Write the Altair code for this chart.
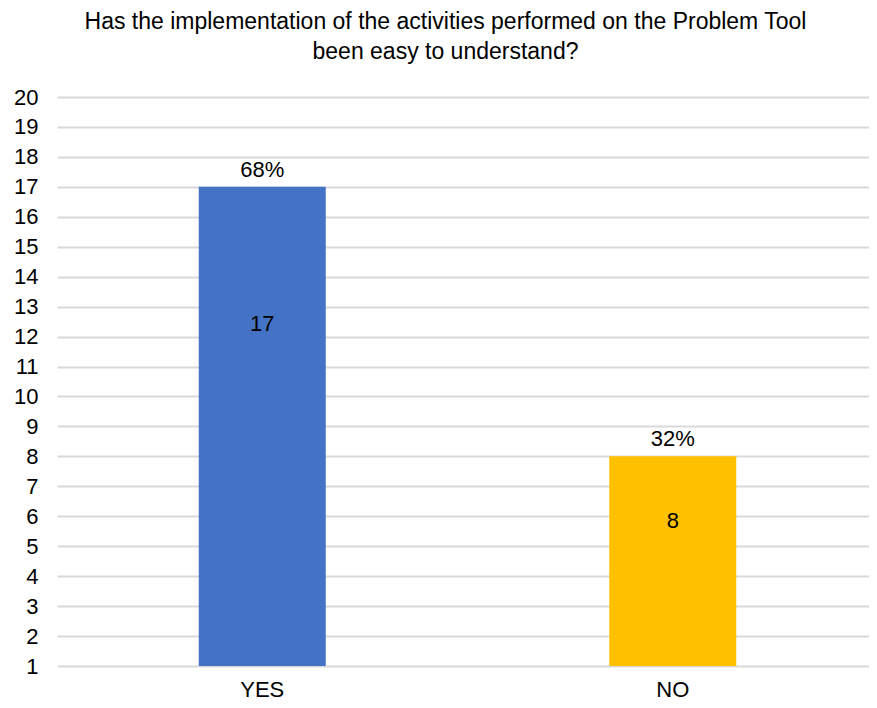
import altair as alt
import pandas as pd

categories = ["YES", "NO"]
counts = [17, 8]
percents = ["68%", "32%"]
colors = ["#4472C4", "#FFC000"]

df = pd.DataFrame({"cat": categories, "count": counts, "pct": percents, "color": colors})

FONT = "Liberation Sans"

x = alt.X("cat:N", sort=categories, title=None,
          scale=alt.Scale(range=[-1, 820], paddingInner=0, paddingOuter=0),
          axis=alt.Axis(labelAngle=0, labelFontSize=22, labelColor="#000000", labelFont=FONT,
                        domain=False, ticks=False, grid=False, labelPadding=13))

yscale = alt.Scale(domain=[1, 20], nice=False, zero=False)
yaxis = alt.Axis(values=list(range(1, 21)), labelFontSize=22, labelColor="#000000",
                 labelFont=FONT, domain=False, ticks=False, labelPadding=20,
                 labelOverlap=False, labelBound=False, labelFlush=False,
                 grid=True, gridColor="#d9d9d9", gridWidth=2)


def Y(field):
    return alt.Y(field, title=None, scale=yscale, axis=yaxis)


base = alt.Chart(df).encode(x=x)

bars = base.mark_bar(size=127).encode(
    y=Y("count:Q"),
    y2=alt.datum(1),
    color=alt.Color("color:N", scale=None),
)

pct_text = base.mark_text(baseline="bottom", dy=-5, fontSize=22, font=FONT, color="#000000").encode(
    y=Y("count:Q"), text="pct:N")

inner_text = base.transform_calculate(pos="datum.count * 0.73").mark_text(
    baseline="middle", fontSize=22, font=FONT, color="#000000").encode(
    y=Y("pos:Q"), text="count:Q")

chart = alt.layer(bars, pct_text, inner_text).properties(
    width=811, height=569,
    background="white",
    autosize=alt.AutoSizeParams(type="none"),
    padding={"left": 50, "top": 89, "right": 0, "bottom": 34},
    title=alt.TitleParams(
        text=["Has the implementation of the activities performed on the Problem Tool",
              "been easy to understand?"],
        fontSize=23, font=FONT, fontWeight="normal", color="#000000",
        anchor="middle", lineHeight=30, offset=22, dx=-18),
).configure_view(stroke=None)

chart.save("out.html", embed_options={"renderer": "svg", "actions": False})
